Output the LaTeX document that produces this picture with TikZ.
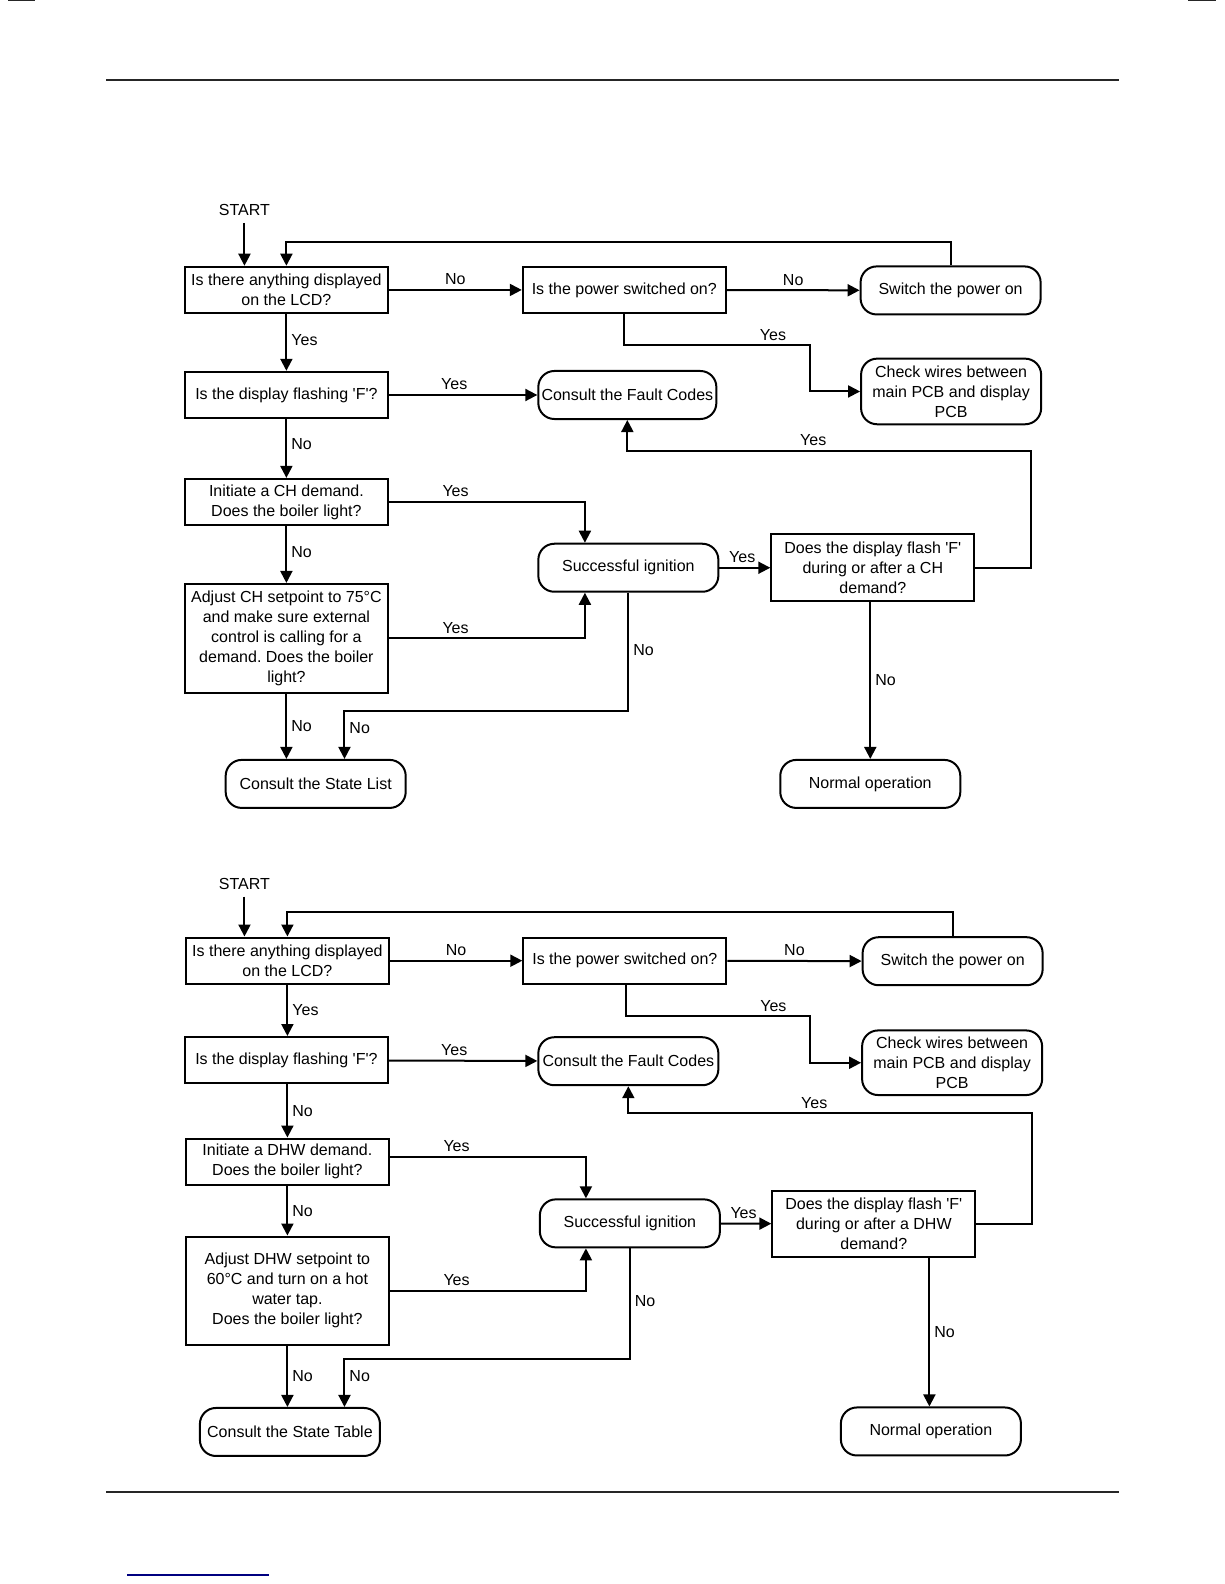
\documentclass[tikz,border=0pt]{standalone}
\usepackage{fontspec}
\setmainfont{Liberation Sans}[Ligatures=TeXOff]
\usetikzlibrary{arrows.meta}
\frenchspacing

\begin{document}
\begin{tikzpicture}[x=0.505pt, y=-0.505pt,
	  font=\fontsize{8}{10}\selectfont,
	  box/.style={draw, line width=1pt, minimum width=101.5pt, minimum height=23.2pt, align=center, inner sep=1pt},
	  term/.style={box, rounded corners=8pt, minimum width=90pt, minimum height=24pt},
	  arr/.style={line width=1pt, -{Triangle[length=6pt,width=6pt]}},
	  lbl/.style={inner sep=2pt}]

	\useasboundingbox (0,0) rectangle (1212,1568);

	% page rules
	\draw[line width=1.2pt, black!85] (105,79) -- (1108,79);
	\draw[line width=1.2pt, black!85] (105,1477) -- (1108,1477);
	\draw[line width=1.4pt, black!85] (8,0) -- (35,0);
	\draw[line width=1.4pt, black!85] (1176,0) -- (1204,0);
	\draw[line width=0.6pt, blue!50!black] (126,1559) -- (266,1559);

	% CH chart
	\node (start1) at (242,208) {START};
	\node[box] (lcd1) at (283.5,287) {Is there anything displayed\\on the LCD?};
	\node[box] (power1) at (618,287) {Is the power switched on?};
	\node[term] (switch1) at (941,287.5) {Switch the power on};
	\node[term, minimum height=32.8pt] (wires1) at (941.5,387.5) {Check wires between\\main PCB and display\\PCB};
	\node[box] (flash1) at (283.5,391) {Is the display flashing 'F'?};
	\node[term, minimum width=89pt] (fault1) at (621,391) {Consult the Fault Codes};
	\node[box] (demand1) at (283.5,497) {Initiate a CH demand.\\Does the boiler light?};
	\node[term] (ignite1) at (622,562) {Successful ignition};
	\node[box, minimum height=54.5pt] (adjust1) at (283.5,632) {Adjust CH setpoint to 75°C\\and make sure external\\control is calling for a\\demand. Does the boiler\\light?};
	\node[box, minimum height=33.3pt] (during1) at (864,562) {Does the display flash 'F'\\during or after a CH\\demand?};
	\node[term] (state1) at (312.5,776) {Consult the State List};
	\node[term] (normal1) at (861.5,776) {Normal operation};

	\draw[arr] (start1.south) -- (start1.south |- lcd1.north);
	\draw[arr] (switch1.north) -- (switch1.north |- 0,240) -| (lcd1.north);
	\draw[arr] (lcd1) -- node[lbl, above] {No} (power1);
	\draw[arr] (power1) -- node[lbl, above] {No} (switch1);
	\draw[arr] (power1.south) |- node[lbl, pos=0.9, above] {Yes} (802,342) |- (wires1.west);
	\draw[arr] (lcd1) -- node[lbl, right, pos=0.45] {Yes} (flash1);
	\draw[arr] (flash1) -- node[lbl, above, pos=0.44] {Yes} (fault1);
	\draw[arr] (flash1) -- node[lbl, right, pos=0.42] {No} (demand1);
	\draw[arr] (demand1.east) -| node[lbl, pos=0.17, above] {Yes} (579,0 |- ignite1.north);
	\draw[arr] (demand1) -- node[lbl, right, pos=0.45] {No} (adjust1);
	\draw[arr] (adjust1.east) -| node[lbl, pos=0.17, above] {Yes} (579,0 |- ignite1.south);
	\draw[arr] (ignite1) -- node[lbl, above, pos=0.45] {Yes} (during1);
	\draw[arr] (during1.east) -| (1021,446) -| node[lbl, pos=0.27, above] {Yes} (fault1.south);
	\draw[arr] (ignite1.south) |- node[lbl, pos=0.24, right] {No} (341,704) -- node[lbl, pos=0.35, right] {No} (341,0 |- state1.north);
	\draw[arr] (adjust1.south) -- node[lbl, right] {No} (adjust1.south |- state1.north);
	\draw[arr] (normal1.north |- during1.south) -- node[lbl, right] {No} (normal1.north);

	% DHW chart
	\node (start2) at (242,875) {START};
	\node[box] (lcd2) at (284.5,951) {Is there anything displayed\\on the LCD?};
	\node[box] (power2) at (618.5,951) {Is the power switched on?};
	\node[term] (switch2) at (943,951.5) {Switch the power on};
	\node[term, minimum height=32.3pt] (wires2) at (942.5,1052) {Check wires between\\main PCB and display\\PCB};
	\node[box] (flash2) at (283.5,1049.5) {Is the display flashing 'F'?};
	\node[term] (fault2) at (622,1050.5) {Consult the Fault Codes};
	\node[box] (demand2) at (284.5,1150) {Initiate a DHW demand.\\Does the boiler light?};
	\node[term] (ignite2) at (623.5,1211) {Successful ignition};
	\node[box, minimum height=54pt] (adjust2) at (284.5,1277.5) {Adjust DHW setpoint to\\60°C and turn on a hot\\water tap.\\Does the boiler light?};
	\node[box, minimum height=32.8pt] (during2) at (865,1211.5) {Does the display flash 'F'\\during or after a DHW\\demand?};
	\node[term] (state2) at (287,1417.5) {Consult the State Table};
	\node[term] (normal2) at (921.5,1417) {Normal operation};

	\draw[arr] (start2.south) -- (start2.south |- lcd2.north);
	\draw[arr] (switch2.north) -- (switch2.north |- 0,903) -| (lcd2.north);
	\draw[arr] (lcd2) -- node[lbl, above] {No} (power2);
	\draw[arr] (power2) -- node[lbl, above] {No} (switch2);
	\draw[arr] (620,0 |- power2.south) |- node[lbl, pos=0.9, above] {Yes} (802,1006) |- (wires2.west);
	\draw[arr] (lcd2.south) -- node[lbl, right] {Yes} (lcd2.south |- flash2.north);
	\draw[arr] (flash2) -- node[lbl, above, pos=0.44] {Yes} (fault2);
	\draw[arr] (flash2.south -| demand2.north) -- node[lbl, right] {No} (demand2.north);
	\draw[arr] ([yshift=2.5pt]demand2.east) -| node[lbl, pos=0.17, above] {Yes} (580,0 |- ignite2.north);
	\draw[arr] (demand2) -- node[lbl, right] {No} (adjust2);
	\draw[arr] (adjust2.east) -| node[lbl, pos=0.17, above] {Yes} (580,0 |- ignite2.south);
	\draw[arr] (ignite2) -- node[lbl, above, pos=0.45] {Yes} (during2);
	\draw[arr] (during2.east) -| (1022,1102) -| node[lbl, pos=0.27, above] {Yes} (fault2.south);
	\draw[arr] (ignite2.south) |- node[lbl, pos=0.24, right] {No} (341,1345) -- node[lbl, pos=0.35, right] {No} (341,0 |- state2.north);
	\draw[arr] (adjust2.south) -- node[lbl, right] {No} (adjust2.south |- state2.north);
	\draw[arr] (920,0 |- during2.south) -- node[lbl, right] {No} (920,0 |- normal2.north);
\end{tikzpicture}
\end{document}
